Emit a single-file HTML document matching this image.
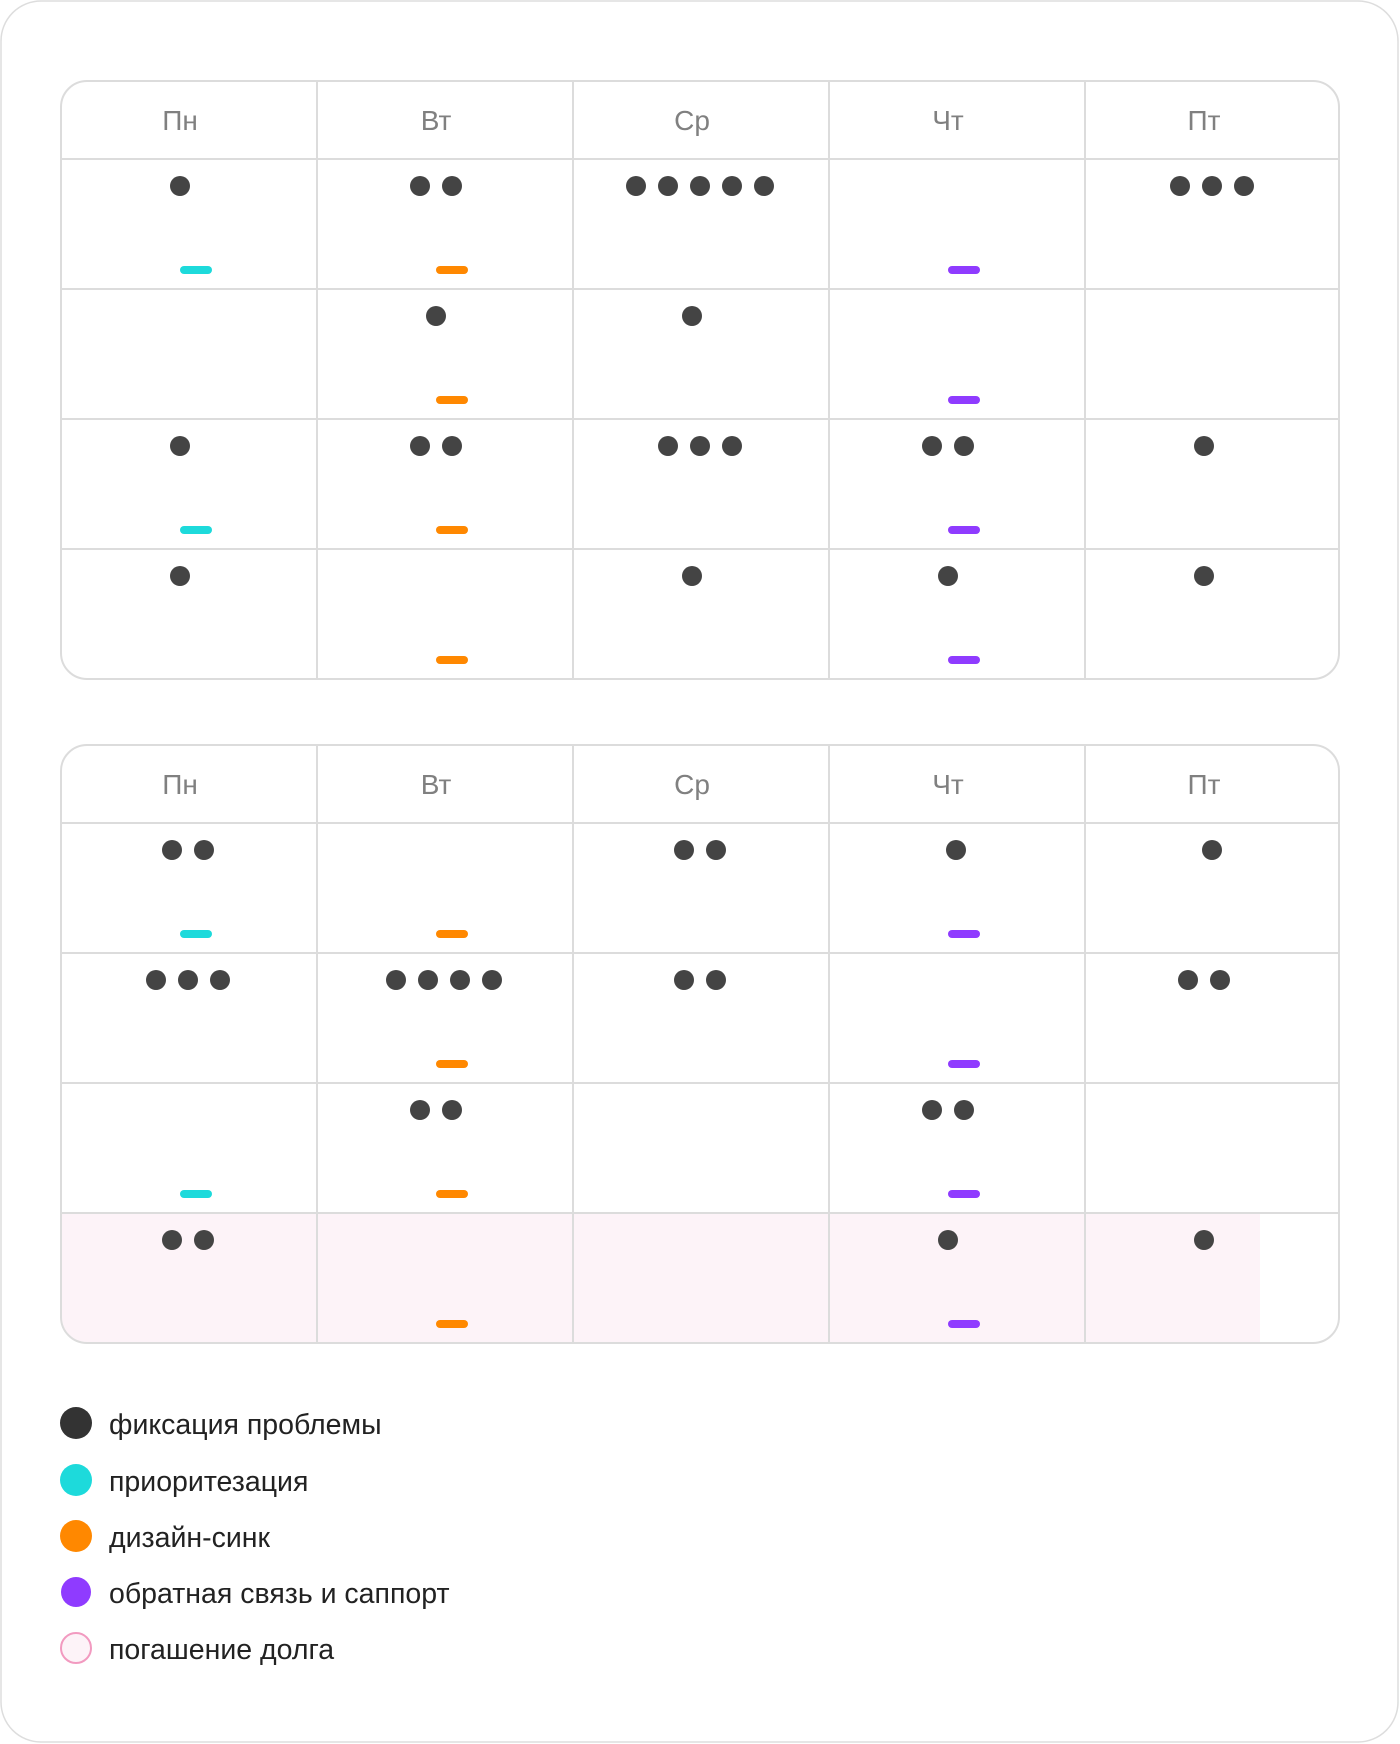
<!DOCTYPE html>
<html>
<head>
<meta charset="utf-8">
<style>
  html, body { margin: 0; padding: 0; background: #ffffff; }
  body { width: 1400px; height: 1744px; overflow: hidden; }
  svg { display: block; }
  .hd { font-family: "Liberation Sans", "DejaVu Sans", sans-serif; font-size: 28px; fill: #808080; text-anchor: middle; }
  .lg { font-family: "Liberation Sans", "DejaVu Sans", sans-serif; font-size: 28.5px; fill: #222222; }
</style>
</head>
<body>
<svg width="1400" height="1744" viewBox="0 0 1400 1744" xmlns="http://www.w3.org/2000/svg">
  <!-- outer card -->
  <rect x="1" y="1" width="1397" height="1741" rx="40" ry="40" fill="#ffffff" stroke="#dddddd" stroke-width="1.5"/>

  <!-- ============ TABLE 1 ============ -->
  <g stroke="#dcdcdc" stroke-width="2" fill="none">
    <rect x="61" y="81" width="1278" height="598" rx="26" ry="26"/>
    <line x1="61" y1="159" x2="1339" y2="159"/>
    <line x1="61" y1="289" x2="1339" y2="289"/>
    <line x1="61" y1="419" x2="1339" y2="419"/>
    <line x1="61" y1="549" x2="1339" y2="549"/>
    <line x1="317" y1="81" x2="317" y2="679"/>
    <line x1="573" y1="81" x2="573" y2="679"/>
    <line x1="829" y1="81" x2="829" y2="679"/>
    <line x1="1085" y1="81" x2="1085" y2="679"/>
  </g>
  <text class="hd" x="180" y="130">Пн</text>
  <text class="hd" x="436" y="130">Вт</text>
  <text class="hd" x="692" y="130">Ср</text>
  <text class="hd" x="948" y="130">Чт</text>
  <text class="hd" x="1204" y="130">Пт</text>

  <g fill="#444444">
    <!-- row 1 -->
    <circle cx="180" cy="186" r="10"/>
    <circle cx="420" cy="186" r="10"/><circle cx="452" cy="186" r="10"/>
    <circle cx="636" cy="186" r="10"/><circle cx="668" cy="186" r="10"/><circle cx="700" cy="186" r="10"/><circle cx="732" cy="186" r="10"/><circle cx="764" cy="186" r="10"/>
    <circle cx="1180" cy="186" r="10"/><circle cx="1212" cy="186" r="10"/><circle cx="1244" cy="186" r="10"/>
    <!-- row 2 -->
    <circle cx="436" cy="316" r="10"/>
    <circle cx="692" cy="316" r="10"/>
    <!-- row 3 -->
    <circle cx="180" cy="446" r="10"/>
    <circle cx="420" cy="446" r="10"/><circle cx="452" cy="446" r="10"/>
    <circle cx="668" cy="446" r="10"/><circle cx="700" cy="446" r="10"/><circle cx="732" cy="446" r="10"/>
    <circle cx="932" cy="446" r="10"/><circle cx="964" cy="446" r="10"/>
    <circle cx="1204" cy="446" r="10"/>
    <!-- row 4 -->
    <circle cx="180" cy="576" r="10"/>
    <circle cx="692" cy="576" r="10"/>
    <circle cx="948" cy="576" r="10"/>
    <circle cx="1204" cy="576" r="10"/>
  </g>
  <!-- dashes table 1 -->
  <rect x="180" y="266" width="32" height="8" rx="4" fill="#1ddadb"/>
  <rect x="436" y="266" width="32" height="8" rx="4" fill="#ff8800"/>
  <rect x="948" y="266" width="32" height="8" rx="4" fill="#8f3bff"/>

  <rect x="436" y="396" width="32" height="8" rx="4" fill="#ff8800"/>
  <rect x="948" y="396" width="32" height="8" rx="4" fill="#8f3bff"/>

  <rect x="180" y="526" width="32" height="8" rx="4" fill="#1ddadb"/>
  <rect x="436" y="526" width="32" height="8" rx="4" fill="#ff8800"/>
  <rect x="948" y="526" width="32" height="8" rx="4" fill="#8f3bff"/>

  <rect x="436" y="656" width="32" height="8" rx="4" fill="#ff8800"/>
  <rect x="948" y="656" width="32" height="8" rx="4" fill="#8f3bff"/>

  <!-- ============ TABLE 2 ============ -->
  <!-- pink last row -->
  <path d="M62 1214 H1260 V1342 H87 A25 25 0 0 1 62 1317 Z" fill="#fdf3f8"/>
  <g stroke="#dcdcdc" stroke-width="2" fill="none">
    <rect x="61" y="745" width="1278" height="598" rx="26" ry="26"/>
    <line x1="61" y1="823" x2="1339" y2="823"/>
    <line x1="61" y1="953" x2="1339" y2="953"/>
    <line x1="61" y1="1083" x2="1339" y2="1083"/>
    <line x1="61" y1="1213" x2="1339" y2="1213"/>
    <line x1="317" y1="745" x2="317" y2="1343"/>
    <line x1="573" y1="745" x2="573" y2="1343"/>
    <line x1="829" y1="745" x2="829" y2="1343"/>
    <line x1="1085" y1="745" x2="1085" y2="1343"/>
  </g>
  <text class="hd" x="180" y="794">Пн</text>
  <text class="hd" x="436" y="794">Вт</text>
  <text class="hd" x="692" y="794">Ср</text>
  <text class="hd" x="948" y="794">Чт</text>
  <text class="hd" x="1204" y="794">Пт</text>

  <g fill="#444444">
    <!-- row 1 -->
    <circle cx="172" cy="850" r="10"/><circle cx="204" cy="850" r="10"/>
    <circle cx="684" cy="850" r="10"/><circle cx="716" cy="850" r="10"/>
    <circle cx="956" cy="850" r="10"/>
    <circle cx="1212" cy="850" r="10"/>
    <!-- row 2 -->
    <circle cx="156" cy="980" r="10"/><circle cx="188" cy="980" r="10"/><circle cx="220" cy="980" r="10"/>
    <circle cx="396" cy="980" r="10"/><circle cx="428" cy="980" r="10"/><circle cx="460" cy="980" r="10"/><circle cx="492" cy="980" r="10"/>
    <circle cx="684" cy="980" r="10"/><circle cx="716" cy="980" r="10"/>
    <circle cx="1188" cy="980" r="10"/><circle cx="1220" cy="980" r="10"/>
    <!-- row 3 -->
    <circle cx="420" cy="1110" r="10"/><circle cx="452" cy="1110" r="10"/>
    <circle cx="932" cy="1110" r="10"/><circle cx="964" cy="1110" r="10"/>
    <!-- row 4 -->
    <circle cx="172" cy="1240" r="10"/><circle cx="204" cy="1240" r="10"/>
    <circle cx="948" cy="1240" r="10"/>
    <circle cx="1204" cy="1240" r="10"/>
  </g>
  <!-- dashes table 2 -->
  <rect x="180" y="930" width="32" height="8" rx="4" fill="#1ddadb"/>
  <rect x="436" y="930" width="32" height="8" rx="4" fill="#ff8800"/>
  <rect x="948" y="930" width="32" height="8" rx="4" fill="#8f3bff"/>

  <rect x="436" y="1060" width="32" height="8" rx="4" fill="#ff8800"/>
  <rect x="948" y="1060" width="32" height="8" rx="4" fill="#8f3bff"/>

  <rect x="180" y="1190" width="32" height="8" rx="4" fill="#1ddadb"/>
  <rect x="436" y="1190" width="32" height="8" rx="4" fill="#ff8800"/>
  <rect x="948" y="1190" width="32" height="8" rx="4" fill="#8f3bff"/>

  <rect x="436" y="1320" width="32" height="8" rx="4" fill="#ff8800"/>
  <rect x="948" y="1320" width="32" height="8" rx="4" fill="#8f3bff"/>

  <!-- ============ LEGEND ============ -->
  <circle cx="76" cy="1423" r="16" fill="#333333"/>
  <text class="lg" x="109" y="1434">фиксация проблемы</text>

  <circle cx="76" cy="1480" r="16" fill="#1ddadb"/>
  <text class="lg" x="109" y="1491">приоритезация</text>

  <circle cx="76" cy="1536" r="16" fill="#ff8800"/>
  <text class="lg" x="109" y="1547">дизайн-синк</text>

  <circle cx="76" cy="1592" r="15" fill="#8f3bff"/>
  <text class="lg" x="109" y="1603">обратная связь и саппорт</text>

  <circle cx="76" cy="1648" r="15" fill="#fdf3f8" stroke="#f29ac0" stroke-width="2"/>
  <text class="lg" x="109" y="1659">погашение долга</text>
</svg>
</body>
</html>
